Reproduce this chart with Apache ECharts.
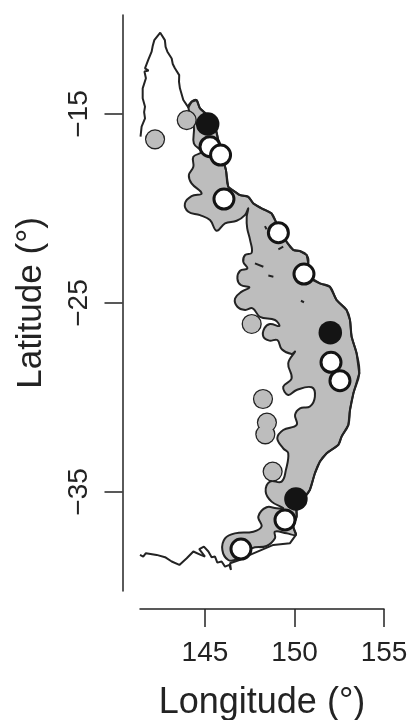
<!DOCTYPE html>
<html><head><meta charset="utf-8">
<style>html,body{margin:0;padding:0;background:#fff}#c{width:411px;height:720px}</style>
<script src="https://cdn.jsdelivr.net/npm/echarts@6/dist/echarts.min.js"></script>
</head><body><div id="c"></div>
<script>
const lonTicks = [145, 150, 155];
const latTicks = [-15, -25, -35];
const capeYorkCoast = [[141.40,-16.20],[141.46,-15.67],[141.65,-15.23],[141.60,-14.90],[141.65,-14.61],[141.52,-14.17],[141.52,-13.64],[141.70,-13.11],[141.62,-12.75],[141.85,-12.70],[141.65,-12.58],[141.83,-12.14],[142.02,-11.70],[142.08,-11.40],[142.17,-11.09],[142.39,-10.82],[142.50,-10.70],[142.58,-10.78],[142.76,-11.09],[142.80,-11.45],[142.90,-11.70],[143.14,-12.06],[143.20,-12.35],[143.32,-12.58],[143.56,-12.94],[143.55,-13.30],[143.60,-13.64],[143.79,-14.26]];
const rangeCoast = [[144.07,-14.65],[144.25,-14.35],[144.53,-14.26],[144.72,-14.70],[145.13,-15.05],[145.56,-15.67],[145.74,-16.38],[145.93,-17.17],[146.17,-17.96],[146.30,-18.85],[146.67,-19.11],[146.95,-19.29],[147.42,-19.38],[147.70,-19.73],[148.16,-19.99],[148.72,-20.26],[149.00,-20.78],[149.56,-21.76],[149.93,-22.19],[150.30,-22.25],[150.68,-22.46],[150.77,-22.90],[150.49,-23.43],[151.42,-23.96],[151.98,-24.14],[152.35,-24.84],[152.91,-25.37],[153.10,-25.90],[153.19,-26.78],[153.47,-27.66],[153.62,-28.72],[153.29,-29.78],[153.10,-30.66],[153.01,-31.45],[152.63,-32.07],[152.45,-32.51],[151.80,-32.95],[151.42,-33.39],[151.14,-34.01],[150.86,-34.89],[150.59,-35.25],[150.12,-35.78],[150.12,-36.30],[149.93,-36.83],[150.08,-37.27]];
const southCoast = [[149.75,-37.71],[148.82,-37.80],[147.51,-38.33],[146.96,-38.59],[146.40,-38.77],[146.45,-39.12],[146.36,-38.86],[146.12,-38.95],[145.93,-38.68],[145.69,-38.74],[145.56,-38.42],[145.37,-38.45],[145.19,-38.15],[144.94,-37.89],[144.68,-38.03],[145.00,-38.42],[144.76,-38.33],[144.35,-38.15],[143.98,-38.51],[143.57,-38.86],[143.14,-38.68],[142.77,-38.45],[142.30,-38.33],[141.70,-38.24],[141.55,-38.42],[141.37,-38.33]];
const rangeInland = [[149.56,-37.19],[148.91,-37.10],[148.91,-37.45],[148.44,-37.86],[147.61,-37.98],[146.77,-38.56],[146.30,-38.60],[145.97,-38.07],[146.12,-37.45],[146.67,-37.19],[147.70,-37.10],[148.16,-36.83],[147.98,-36.30],[148.44,-35.81],[149.00,-35.86],[149.37,-35.86],[148.72,-35.51],[148.39,-34.98],[148.63,-34.45],[149.28,-34.45],[149.52,-33.83],[149.65,-32.95],[149.37,-32.69],[149.04,-32.16],[149.37,-31.72],[150.12,-31.45],[150.03,-30.92],[150.31,-30.57],[150.86,-30.48],[151.14,-29.95],[150.96,-29.46],[150.12,-29.60],[149.65,-29.87],[149.37,-29.43],[149.84,-28.99],[149.65,-28.19],[150.03,-27.57],[149.84,-27.70],[149.29,-27.45],[149.04,-26.96],[148.60,-26.99],[148.26,-26.78],[148.32,-26.34],[148.63,-26.11],[149.15,-26.22],[148.91,-25.90],[148.07,-25.73],[147.66,-25.28],[147.24,-25.37],[146.81,-25.20],[146.68,-24.76],[147.05,-24.40],[147.48,-24.17],[147.00,-24.05],[146.81,-23.70],[146.96,-23.29],[147.37,-23.17],[147.14,-22.82],[147.24,-22.46],[147.61,-22.34],[147.52,-21.67],[147.36,-21.05],[147.33,-20.44],[147.42,-19.99],[147.23,-20.35],[146.77,-20.65],[146.12,-20.79],[145.65,-21.18],[145.28,-20.61],[144.72,-20.35],[144.07,-20.17],[143.88,-19.73],[144.25,-19.34],[144.81,-19.20],[144.25,-18.67],[144.10,-18.23],[144.35,-17.79],[144.35,-17.26],[144.81,-17.00],[144.38,-16.56],[144.38,-15.67]];
const specks = [[147.79,-22.90],[148.26,-23.08],null,[148.54,-23.55],[148.82,-23.61],null,[150.36,-24.88],[150.53,-24.96],null,[148.35,-20.93],[148.44,-21.10],null,[149.10,-22.16],[149.37,-22.02]];
const grayPoints = [[143.98,-15.32],[142.21,-16.34],[147.61,-26.11],[148.24,-30.08],[148.46,-31.33],[148.37,-31.95],[148.78,-33.92]];
const blackPoints = [[145.15,-15.53],[152.00,-26.57],[150.08,-35.37]];
const whitePoints = [[145.28,-16.73],[145.87,-17.17],[146.06,-19.50],[149.10,-21.28],[150.53,-23.47],[152.04,-28.14],[152.54,-29.11],[149.47,-36.48],[147.01,-38.02]];

const ink = '#232323', fillGray = '#bdbdbd';
const region = rangeCoast.concat(rangeInland);
const coast = capeYorkCoast.concat(rangeCoast, southCoast);
const chart = echarts.init(document.getElementById('c'));
const font = 'Liberation Sans';
chart.setOption({
  animation: false,
  backgroundColor: '#fff',
  grid: {left: 140, right: 27, top: 15, bottom: 129, outerBoundsMode: 'none'},
  xAxis: {
    type: 'value', min: 141.37, max: 155, offset: 18, position: 'bottom',
    splitLine: {show: false},
    axisLine: {onZero: false, lineStyle: {color: ink, width: 1.5}},
    axisTick: {length: 18, customValues: lonTicks, lineStyle: {color: ink, width: 1.5}},
    axisLabel: {customValues: lonTicks, fontFamily: font, fontSize: 28, color: ink, margin: 30},
    name: 'Longitude (°)', nameLocation: 'middle', nameGap: 76,
    nameTextStyle: {fontFamily: font, fontSize: 36, color: ink}
  },
  yAxis: {
    type: 'value', min: -40.24, max: -9.76, offset: 17.5, position: 'left',
    splitLine: {show: false},
    axisLine: {onZero: false, lineStyle: {color: ink, width: 1.5}},
    axisTick: {length: 18, customValues: latTicks, lineStyle: {color: ink, width: 1.5}},
    axisLabel: {customValues: latTicks, rotate: 90, fontFamily: font, fontSize: 28, color: ink, margin: 29,
      formatter: v => String(v).replace('-', '\u2212')},
    name: 'Latitude (°)', nameLocation: 'middle', nameGap: 74,
    nameTextStyle: {fontFamily: font, fontSize: 35, color: ink}
  },
  series: [
    {type: 'custom', coordinateSystem: 'cartesian2d', silent: true, z: 2, clip: false,
     data: region, encode: {x: 0, y: 1},
     renderItem: (p, api) => p.dataIndex !== 0 ? null : ({
       type: 'polygon',
       shape: {points: region.map(c => api.coord(c)), smooth: 0.4},
       style: {fill: fillGray, stroke: ink, lineWidth: 2}
     })},
    {type: 'line', data: coast, symbol: 'none', z: 3, clip: false,
     lineStyle: {color: ink, width: 2}},
    {type: 'line', data: specks, symbol: 'none', z: 3, connectNulls: false,
     lineStyle: {color: ink, width: 2}},
    {type: 'scatter', data: grayPoints, symbolSize: 18.5, z: 4, clip: false,
     itemStyle: {color: fillGray, borderColor: ink, borderWidth: 1.7, opacity: 1}},
    {type: 'scatter', data: grayPoints, symbolSize: 17.5, z: 4, clip: false,
     itemStyle: {color: fillGray, opacity: 1}},
    {type: 'scatter', data: blackPoints, symbolSize: 23.5, z: 5, clip: false,
     itemStyle: {color: '#141414', opacity: 1}},
    {type: 'scatter', data: whitePoints, symbolSize: 20, z: 6, clip: false,
     itemStyle: {color: '#fff', borderColor: '#141414', borderWidth: 3, opacity: 1}}
  ]
});
</script></body></html>
